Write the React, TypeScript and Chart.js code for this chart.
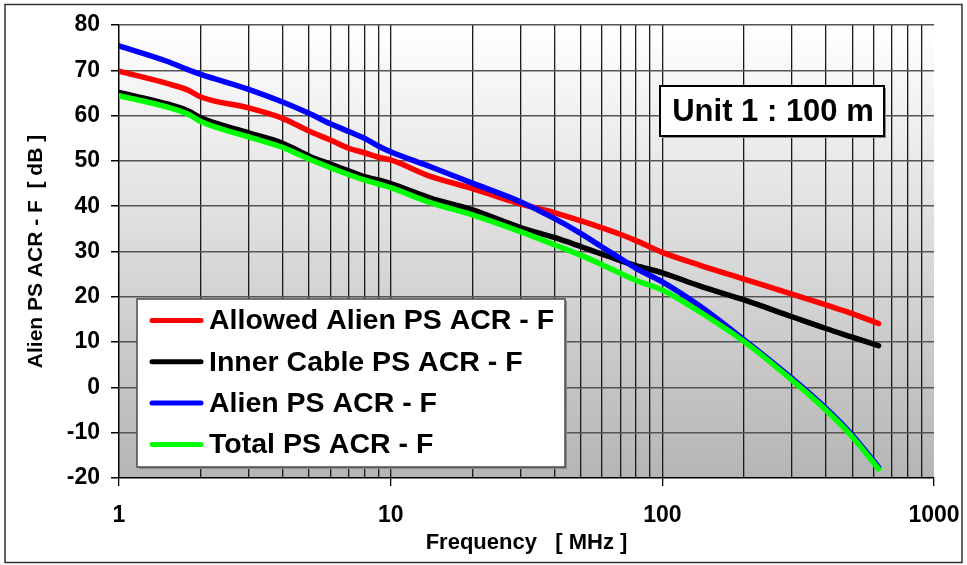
import React, { useEffect, useRef } from "react";
import { Chart, registerables } from "chart.js";

Chart.register(...registerables);

// Frequency points (MHz) and the four ACR curves (dB) sampled at them.
const FREQ_MHZ = [1, 1.5, 1.8, 2, 3, 4, 5, 6, 7, 8, 9, 10, 14, 20, 30, 40, 50, 60, 70, 80, 100, 137, 200, 300, 400, 500, 625];
const ALLOWED_ALIEN_ACR = [69.8, 67.1, 65.6, 64.1, 61.7, 59.4, 56.6, 54.6, 52.8, 51.8, 50.8, 50.2, 46.6, 43.9, 40.5, 38.6, 36.8, 35.2, 33.8, 32.4, 29.8, 27.0, 23.9, 20.6, 18.2, 16.3, 14.1];
const INNER_CABLE_ACR = [65.1, 62.6, 61.0, 59.5, 56.2, 53.9, 51.1, 49.3, 47.8, 46.5, 45.8, 45.0, 41.8, 39.2, 35.3, 33.1, 31.1, 29.4, 28.0, 26.9, 25.3, 22.4, 19.3, 15.6, 13.0, 11.1, 9.2];
const ALIEN_ACR = [75.4, 72.0, 70.1, 69.1, 65.8, 63.0, 60.5, 58.2, 56.5, 55.0, 53.3, 52.0, 48.7, 45.1, 41.0, 37.3, 34.0, 31.0, 28.5, 26.3, 23.3, 18.0, 10.5, 2.0, -4.6, -10.5, -17.6];
const TOTAL_ACR = [64.4, 61.9, 60.3, 58.7, 55.3, 53.0, 50.4, 48.5, 47.0, 45.8, 44.9, 44.1, 40.8, 38.1, 34.4, 31.5, 29.2, 27.1, 25.2, 23.6, 21.5, 16.7, 10.1, 1.6, -5.0, -10.9, -18.0];

const SERIES_LABELS = [
  "Allowed Alien PS ACR - F",
  "Inner Cable PS ACR - F",
  "Alien PS ACR - F",
  "Total PS ACR - F",
];
const SERIES_VALUES = [ALLOWED_ALIEN_ACR, INNER_CABLE_ACR, ALIEN_ACR, TOTAL_ACR];
const SERIES_COLORS = ["#ff0000", "#000000", "#0000ff", "#00ff00"];

// Log-axis grid positions and the decade labels shown under the axis.
const X_GRID_VALUES = [
  1, 2, 3, 4, 5, 6, 7, 8, 9,
  10, 20, 30, 40, 50, 60, 70, 80, 90,
  100, 200, 300, 400, 500, 600, 700, 800, 900,
  1000,
];
const X_LABEL_VALUES = [1, 10, 100, 1000];
const Y_MIN = -20;
const Y_MAX = 80;
const Y_STEP = 10;

const X_TITLE = "Frequency   [ MHz ]";
const Y_TITLE = "Alien PS ACR - F  [ dB ]";
const NOTE_TEXT = "Unit 1 : 100 m";

const FONT = "'Liberation Sans', Arial, Helvetica, sans-serif";

const isDecade = (v: number) => X_LABEL_VALUES.indexOf(v) >= 0;

// Grey-to-white fill behind the grid.
const plotBackground = {
  id: "plotBackground",
  beforeDraw(chart: any) {
    const { ctx, chartArea: a } = chart;
    const g = ctx.createLinearGradient(0, a.top, 0, a.bottom);
    g.addColorStop(0, "#ffffff");
    g.addColorStop(1, "#b5b5b5");
    ctx.save();
    ctx.fillStyle = g;
    ctx.fillRect(a.left, a.top, a.right - a.left, a.bottom - a.top);
    ctx.restore();
  },
};

function shadowBox(ctx: CanvasRenderingContext2D, x: number, y: number, w: number, h: number, stroke: string, lw: number) {
  ctx.fillStyle = "#8c8c8c";
  ctx.fillRect(x + 2, y + 2, w, h);
  ctx.fillStyle = "#ffffff";
  ctx.fillRect(x, y, w, h);
  ctx.strokeStyle = stroke;
  ctx.lineWidth = lw;
  ctx.strokeRect(x, y, w, h);
}

// Boxed legend, the "Unit" note and the frame around the whole figure.
const overlays = {
  id: "overlays",
  afterDraw(chart: any) {
    const ctx: CanvasRenderingContext2D = chart.ctx;
    ctx.save();

    // legend
    const lx = 137, ly = 299, lw = 428, lh = 168;
    shadowBox(ctx, lx, ly, lw, lh, "#4a4a4a", 1.5);
    const rowTop = 320.5, rowGap = 41.3;
    chart.data.datasets.forEach((ds: any, i: number) => {
      const cy = rowTop + i * rowGap;
      ctx.strokeStyle = ds.borderColor;
      ctx.lineWidth = 5;
      ctx.lineCap = "round";
      ctx.beginPath();
      ctx.moveTo(152, cy);
      ctx.lineTo(201, cy);
      ctx.stroke();
      ctx.fillStyle = "#000";
      ctx.font = `bold 28.5px ${FONT}`;
      ctx.textBaseline = "middle";
      ctx.textAlign = "left";
      ctx.fillText(ds.label, 209, cy + 1);
    });

    // note box
    shadowBox(ctx, 660, 86, 224, 50, "#000000", 2);
    ctx.fillStyle = "#000";
    ctx.font = `bold 31px ${FONT}`;
    ctx.textAlign = "center";
    ctx.textBaseline = "middle";
    ctx.fillText(NOTE_TEXT, 773, 112);

    // outer frame
    ctx.strokeStyle = "#333333";
    ctx.lineWidth = 1.5;
    ctx.strokeRect(5, 4.5, 957, 558);
    ctx.restore();
  },
};

export default function App() {
  const ref = useRef<HTMLCanvasElement>(null);

  useEffect(() => {
    const canvas = ref.current;
    if (!canvas) return;

    const n = SERIES_LABELS.length;
    const chart = new Chart(canvas, {
      type: "line",
      data: {
        datasets: SERIES_LABELS.map((label, i) => ({
          label,
          data: FREQ_MHZ.map((f, j) => ({ x: f, y: SERIES_VALUES[i][j] })),
          borderColor: SERIES_COLORS[i],
          backgroundColor: SERIES_COLORS[i],
          borderWidth: 5.5,
          pointRadius: 0,
          pointHoverRadius: 0,
          fill: false,
          cubicInterpolationMode: "monotone",
          borderCapStyle: "round",
          borderJoinStyle: "round",
          order: n - 1 - i,
        })),
      },
      options: {
        responsive: false,
        animation: false,
        devicePixelRatio: 1,
        layout: { padding: { left: 6, top: 25, right: 33, bottom: 5 } },
        plugins: {
          legend: { display: false },
          tooltip: { enabled: false },
        },
        scales: {
          x: {
            type: "logarithmic",
            min: 1,
            max: 1000,
            afterBuildTicks: (s: any) => {
              s.ticks = X_GRID_VALUES.map((v) => ({ value: v, major: isDecade(v) }));
            },
            afterFit: (s: any) => {
              s.height = 82;
              s.paddingLeft = 0;
              s.paddingRight = 0;
            },
            ticks: {
              autoSkip: false,
              maxRotation: 0,
              minRotation: 0,
              padding: 16,
              color: "#000",
              font: { family: FONT, size: 23, weight: "bold" },
              callback: (v: any) => (isDecade(Number(v)) ? String(v) : ""),
            },
            grid: {
              color: (c: any) => (c.tick && c.tick.value === 1000 ? "rgba(0,0,0,0)" : "#1a1a1a"),
              lineWidth: 1.3,
              drawTicks: true,
              tickLength: 8,
              tickColor: (c: any) => (c.tick && isDecade(c.tick.value) ? "#000" : "rgba(0,0,0,0)"),
            },
            border: { display: true, color: "#000", width: 1.3 },
            title: {
              display: true,
              text: X_TITLE,
              color: "#000",
              font: { family: FONT, size: 22, weight: "bold" },
              padding: { top: 0, bottom: 4 },
            },
          },
          y: {
            type: "linear",
            min: Y_MIN,
            max: Y_MAX,
            afterFit: (s: any) => {
              s.width = 113;
              s.paddingTop = 0;
              s.paddingBottom = 0;
            },
            ticks: {
              stepSize: Y_STEP,
              padding: 11,
              color: "#000",
              font: { family: FONT, size: 23, weight: "bold" },
            },
            grid: {
              color: "#555555",
              lineWidth: 1.5,
              drawTicks: true,
              tickLength: 8,
              tickColor: "#000",
            },
            border: { display: true, color: "#000", width: 1.3 },
            title: {
              display: true,
              text: Y_TITLE,
              color: "#000",
              font: { family: FONT, size: 21, weight: "bold" },
              padding: { top: 18, bottom: 0 },
            },
          },
        },
      },
      plugins: [plotBackground, overlays],
    } as any);

    return () => chart.destroy();
  }, []);

  return (
    <div style={{ position: "absolute", left: 0, top: 0, width: 967, height: 565, background: "#fff" }}>
      <canvas ref={ref} width={967} height={565} style={{ display: "block", width: 967, height: 565 }} />
    </div>
  );
}
